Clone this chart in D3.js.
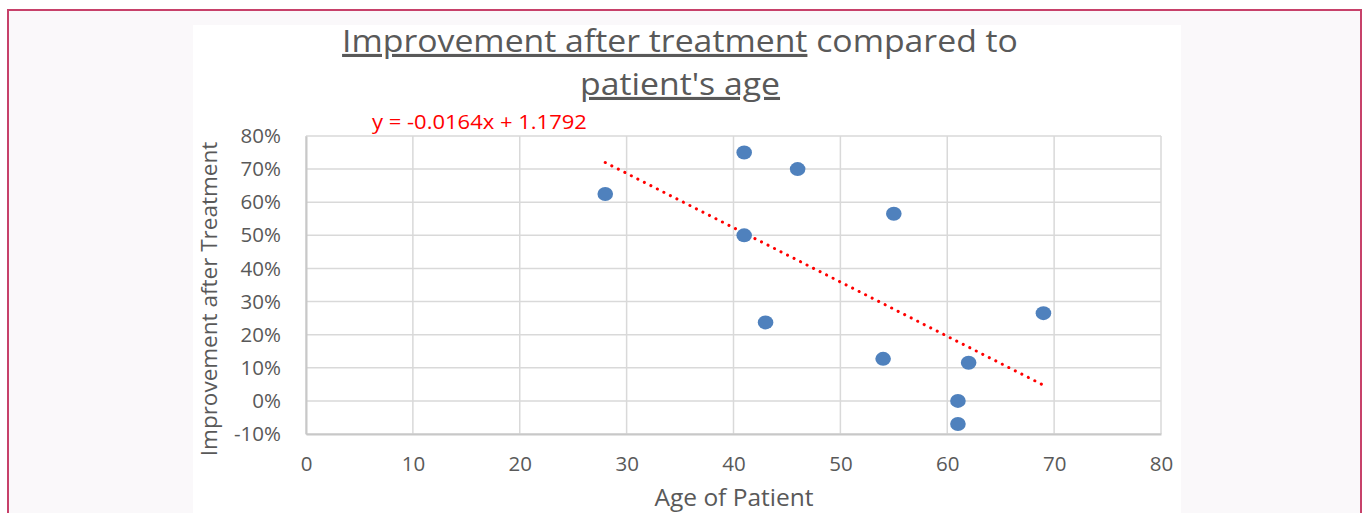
<!DOCTYPE html>
<html>
<head>
<meta charset="utf-8">
<script src="https://cdn.jsdelivr.net/npm/d3@7"></script>
<style>
  body { margin: 0; background: #fff; }
  svg { display: block; font-family: "Open Sans", sans-serif; }
</style>
</head>
<body>
<div id="chart"></div>
<script>
(function() {
  // data
  var ages = [28, 41, 46, 55, 41, 43, 54, 69, 62, 61, 61];
  var improvement = [0.625, 0.75, 0.70, 0.565, 0.50, 0.237, 0.127, 0.265, 0.115, 0.0, -0.07];
  var xTicks = [0, 10, 20, 30, 40, 50, 60, 70, 80];
  var yTicks = [-0.1, 0, 0.1, 0.2, 0.3, 0.4, 0.5, 0.6, 0.7, 0.8];
  var slope = -0.0164, intercept = 1.1792;

  var W = 1370, H = 513;
  var margin = { top: 136, left: 306, right: 1370 - 1161, bottom: 513 - 434 };
  var width = W - margin.left - margin.right,
      height = H - margin.top - margin.bottom;

  var svg = d3.select("#chart").append("svg")
    .attr("width", W).attr("height", H);

  // page + frame
  svg.append("rect").attr("x", 0).attr("y", 0).attr("width", W).attr("height", H).attr("fill", "#fff");
  svg.append("rect").attr("x", 8).attr("y", 10).attr("width", 1353).attr("height", H)
    .attr("fill", "#faf8fa").attr("stroke", "#c7416a").attr("stroke-width", 2);
  svg.append("rect").attr("x", 193).attr("y", 25).attr("width", 988).attr("height", H)
    .attr("fill", "#fff");

  var g = svg.append("g").attr("transform", "translate(" + margin.left + "," + margin.top + ")");

  var x = d3.scaleLinear().domain([0, 80]).range([0, width]);
  var y = d3.scaleLinear().domain([-0.1, 0.8]).range([height, 0]);

  // gridlines
  g.selectAll(".hgrid").data(yTicks).enter().append("line")
    .attr("x1", 0).attr("x2", width)
    .attr("y1", function(d) { return y(d); }).attr("y2", function(d) { return y(d); })
    .attr("stroke", "#d9d9d9").attr("stroke-width", 1.5);
  g.selectAll(".vgrid").data(xTicks).enter().append("line")
    .attr("y1", 0).attr("y2", height)
    .attr("x1", function(d) { return x(d); }).attr("x2", function(d) { return x(d); })
    .attr("stroke", "#d9d9d9").attr("stroke-width", 1.5);

  // axes (plain hyphen for negatives, like Excel)
  var pct = function(d) { return Math.round(d * 100) + "%"; };
  var xAxis = g.append("g").attr("transform", "translate(0," + height + ")")
    .call(d3.axisBottom(x).tickValues(xTicks).tickSize(0).tickPadding(22));
  var yAxis = g.append("g")
    .call(d3.axisLeft(y).tickValues(yTicks).tickSize(0).tickPadding(25).tickFormat(pct));
  [xAxis, yAxis].forEach(function(a) {
    a.select(".domain").attr("stroke", "#c8c8c8").attr("stroke-width", 2);
    a.selectAll("text").attr("fill", "#595959").style("font-size", "20.5px")
      .style("font-family", "'Open Sans', sans-serif");
  });

  // trendline
  var xs = d3.extent(ages);
  g.append("line")
    .attr("x1", x(xs[0])).attr("y1", y(intercept + slope * xs[0]))
    .attr("x2", x(xs[1])).attr("y2", y(intercept + slope * xs[1]))
    .attr("stroke", "#ff0000").attr("stroke-width", 3)
    .attr("stroke-linecap", "round").attr("stroke-dasharray", "0.1,7.2");

  // points
  g.selectAll(".dot").data(ages).enter().append("ellipse")
    .attr("cx", function(d) { return x(d); })
    .attr("cy", function(d, i) { return y(improvement[i]); })
    .attr("rx", 7.8).attr("ry", 7)
    .attr("fill", "#4f81bd");

  // equation label
  svg.append("text").attr("transform", "translate(372,129) scale(1.1,1)")
    .attr("fill", "#ff0000").style("font-size", "20px")
    .text("y = " + slope + "x + " + intercept);

  // title
  var t1 = svg.append("text").attr("transform", "translate(680,52) scale(1.09,1)")
    .attr("text-anchor", "middle")
    .attr("fill", "#595959").style("font-size", "31px");
  t1.append("tspan").attr("text-decoration", "underline").text("Improvement after treatment");
  t1.append("tspan").text(" compared to");
  svg.append("text").attr("transform", "translate(680,95) scale(1.09,1)")
    .attr("text-anchor", "middle")
    .attr("fill", "#595959").style("font-size", "31px")
    .attr("text-decoration", "underline").text("patient's age");

  // axis titles
  svg.append("text").attr("x", 734).attr("y", 506).attr("text-anchor", "middle")
    .attr("fill", "#595959").style("font-size", "24.5px").text("Age of Patient");
  svg.append("text").attr("transform", "translate(217,299) rotate(-90)")
    .attr("text-anchor", "middle").attr("fill", "#595959").style("font-size", "22.5px")
    .text("Improvement after Treatment");
})();
</script>
</body>
</html>
